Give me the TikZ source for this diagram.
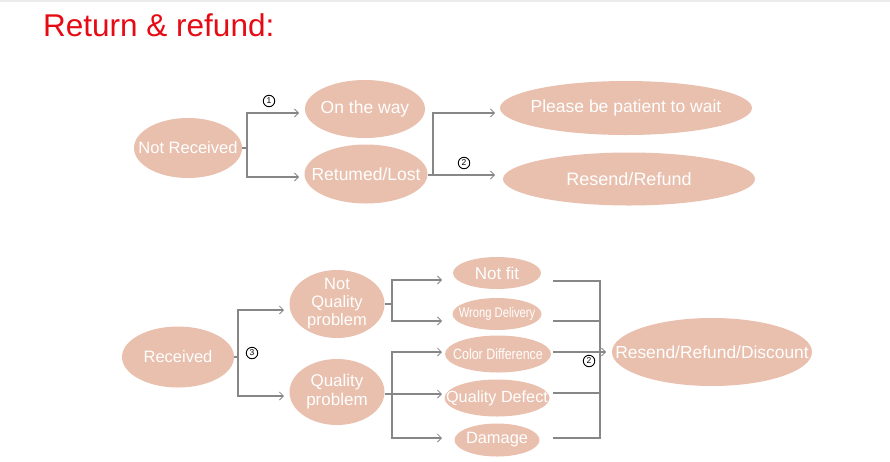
\documentclass[tikz,border=0pt]{standalone}
\usepackage{fontspec}
\setmainfont{Liberation Sans}
\usetikzlibrary{shapes.geometric,arrows.meta}
\definecolor{salmon}{RGB}{233,191,173}
\definecolor{linegray}{RGB}{135,135,135}
\definecolor{titlered}{RGB}{230,10,20}
\newcommand{\fs}[1]{\fontsize{#1}{#1}\selectfont}
\newcommand{\zb}[1]{\makebox[0pt]{#1}}
\begin{document}
\begin{tikzpicture}[x=1pt,y=-1pt,
  el/.style={ellipse, fill=salmon, draw=none, text=white, inner sep=0pt, outer sep=0pt, align=center},
  conn/.style={draw=linegray, line width=1.4pt, -{Straight Barb[length=4pt,width=8pt,line width=0.8pt]}},
  ln/.style={draw=linegray, line width=1.4pt},
  num/.style={circle, draw=black, line width=0.9pt, minimum size=11.5pt, inner sep=0pt, font=\fs{8.5}}]
\useasboundingbox (0,0) rectangle (890,461);
\fill[black!8] (0,0) rectangle (890,2);
\node[anchor=base west, text=titlered, font=\fs{31.5}, inner sep=0pt] (title) at (43,36) {Return \& refund:};

% top part
\node[el, minimum width=108pt, minimum height=60pt, font=\fs{16.5}] (nr) at (188,148) {\zb{Not Received}};
\node[el, minimum width=120pt, minimum height=58pt, font=\fs{17.5}] (ow) at (365,109) {\zb{On the way}};
\node[el, minimum width=123pt, minimum height=59pt, font=\fs{17.5}] (rl) at (366,174) {\zb{Retumed/Lost}};
\node[el, minimum width=252pt, minimum height=54pt, font=\fs{17.5}] (pw) at (626,108) {\zb{Please be patient to wait}};
\node[el, minimum width=252pt, minimum height=53pt, font=\fs{18}] (rr) at (629,179) {\zb{Resend/Refund}};

\coordinate (b1) at (247,148);
\coordinate (a1) at (299,113);
\coordinate (a2) at (299,177);
\draw[ln] (nr.east) -- (b1);
\draw[conn] (b1) |- (a1);
\draw[conn] (b1) |- (a2);
\node[num] (n1) at (269,101) {1};

\coordinate (b2) at (433,175);
\coordinate (a3) at (495,113);
\coordinate (a4) at (495,175);
\draw[ln] (rl.east |- b2) -- (b2);
\draw[conn] (b2) |- (a3);
\draw[conn] (b2) -- (a4);
\node[num] (n2) at (464,163) {2};

% bottom part
\node[el, minimum width=112pt, minimum height=61pt, font=\fs{16.5}] (rc) at (178,357) {\zb{Received}};
\node[el, minimum width=95pt, minimum height=68pt, inner ysep=-5pt, font={\fontsize{16.5}{18}\selectfont}] (nq) at (337,304) {Not\\Quality\\problem};
\node[el, minimum width=95pt, minimum height=66pt, font={\fontsize{17}{19}\selectfont}] (qp) at (337,392) {Quality\\problem};
\node[el, minimum width=88pt, minimum height=32pt, font=\fs{17}] (nf) at (497,273) {\zb{Not fit}};
\node[el, minimum width=89pt, minimum height=32pt, font=\fs{14}] (wd) at (497,314) {\zb{\scalebox{0.8}[1]{Wrong Delivery}}};
\node[el, minimum width=106pt, minimum height=37pt, font=\fs{15}] (cd) at (498,354) {\zb{\scalebox{0.83}[1]{Color Difference}}};
\node[el, minimum width=105pt, minimum height=37pt, font=\fs{16.2}] (qd) at (497,398) {\zb{Quality Defect}};
\node[el, minimum width=85pt, minimum height=33pt, font=\fs{16.4}] (dm) at (497,440) {\zb{Damage}};
\node[el, minimum width=200pt, minimum height=68pt, font=\fs{17.4}] (rd) at (712,352) {\zb{Resend/Refund/Discount}};

\coordinate (b3) at (238,357);
\coordinate (a5) at (284,310);
\coordinate (a6) at (284,396);
\draw[ln] (rc.east) -- (b3);
\draw[conn] (b3) |- (a5);
\draw[conn] (b3) |- (a6);
\node[num] (n3) at (252,353) {3};

\coordinate (b4) at (392,304);
\coordinate (a7) at (442,280);
\coordinate (a8) at (442,321);
\draw[ln] (nq.east) -- (b4);
\draw[conn] (b4) |- (a7);
\draw[conn] (b4) |- (a8);

\coordinate (b5) at (392,394);
\coordinate (a9) at (442,352);
\coordinate (a10) at (442,394);
\coordinate (a11) at (442,438);
\draw[ln] (qp.east |- b5) -- (b5);
\draw[conn] (b5) |- (a9);
\draw[conn] (b5) -- (a10);
\draw[conn] (b5) |- (a11);

\coordinate (s1) at (553,281);
\coordinate (s2) at (553,321);
\coordinate (s3) at (553,352);
\coordinate (s4) at (553,393);
\coordinate (s5) at (553,438);
\coordinate (v1) at (600,281);
\coordinate (v5) at (600,438);
\coordinate (vm) at (600,352);
\coordinate (a12) at (606,352);
\draw[ln] (s1) -- (v1) -- (v5) -- (s5);
\draw[ln] (s2) -- (s2 -| v1);
\draw[ln] (s3) -- (vm);
\draw[ln] (s4) -- (s4 -| v1);
\draw[conn] (vm) -- (a12);
\node[num] (n4) at (589,361) {2};
\end{tikzpicture}
\end{document}
